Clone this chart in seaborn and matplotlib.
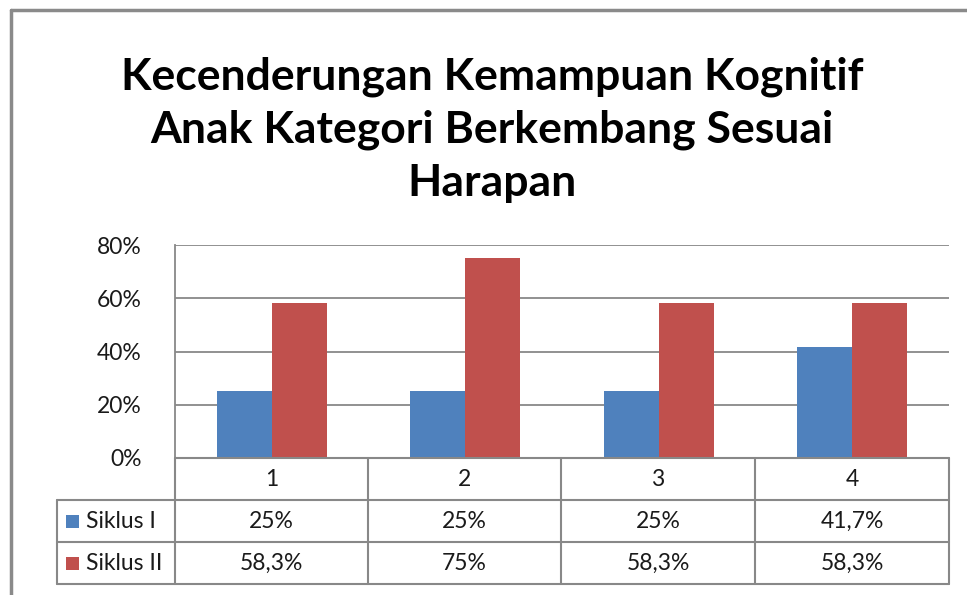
import matplotlib
matplotlib.use("Agg")
import matplotlib.pyplot as plt
import seaborn as sns
import pandas as pd
from matplotlib.lines import Line2D
from matplotlib.patches import Rectangle

categories = ["1", "2", "3", "4"]
series_names = ["Siklus I", "Siklus II"]
siklus1 = [25, 25, 25, 41.7]
siklus2 = [58.3, 75, 58.3, 58.3]
yticks = [0, 20, 40, 60, 80]
title = "Kecenderungan Kemampuan Kognitif\nAnak Kategori Berkembang Sesuai\nHarapan"
colors = ["#4F81BD", "#C0504D"]

sns.set_theme(style="white")
plt.rcParams["font.family"] = ["Lato", "DejaVu Sans"]

W, H = 967, 595
fig = plt.figure(figsize=(W / 100, H / 100), dpi=100)

def fx(px):
    return px / W

def fy(py):
    return 1 - py / H

ax_left, ax_right, ax_top, ax_bottom = 175, 949, 245, 458
ax = fig.add_axes([fx(ax_left), fy(ax_bottom), fx(ax_right - ax_left), fy(ax_top) - fy(ax_bottom)])

df = pd.DataFrame({
    "cat": categories * 2,
    "val": siklus1 + siklus2,
    "series": [series_names[0]] * 4 + [series_names[1]] * 4,
})
sns.barplot(data=df, x="cat", y="val", hue="series", palette=colors, width=0.57,
            gap=0, ax=ax, legend=False, saturation=1, linewidth=0)

FS = 16.5
grid_c = "#888888"
ax.set_ylim(0, 80)
ax.set_xlim(-0.5, 3.5)
ax.set_yticks(yticks)
ax.set_yticklabels([f"{t}%" for t in yticks], fontsize=FS, color="#1a1a1a")
ax.set_xticks([])
ax.set_xlabel("")
ax.set_ylabel("")
for t in yticks[1:]:
    ax.axhline(t, color=grid_c, lw=1.3, zorder=0)
for s in ["top", "right", "bottom"]:
    ax.spines[s].set_visible(False)
ax.spines["left"].set_color(grid_c)
ax.spines["left"].set_linewidth(1.3)
ax.tick_params(axis="y", length=0, pad=24)

# title
fig.text(fx(492), fy(130), title, ha="center", va="center", fontsize=32,
         fontweight="bold", color="#000000", linespacing=1.38)

# table
def hline(y, x0, x1):
    fig.add_artist(Line2D([fx(x0), fx(x1)], [fy(y), fy(y)], color=grid_c, lw=1.5))

def vline(x, y0, y1):
    fig.add_artist(Line2D([fx(x), fx(x)], [fy(y0), fy(y1)], color=grid_c, lw=1.5))

rows = [458, 500, 542, 584]
cols = [175, 368, 561, 755, 949]
leg_left = 57
hline(rows[0], cols[0], cols[-1])
for y in rows[1:]:
    hline(y, leg_left, cols[-1])
vline(leg_left, rows[1], rows[-1])
for x in cols:
    vline(x, rows[0], rows[-1])

txt_c = "#1a1a1a"
for i, c in enumerate(categories):
    cx = (cols[i] + cols[i + 1]) / 2
    fig.text(fx(cx), fy((rows[0] + rows[1]) / 2), c, ha="center", va="center",
             fontsize=FS, color=txt_c)

def fmt(v):
    s = f"{v:g}".replace(".", ",")
    return s + "%"

for r, (name, vals, col) in enumerate(zip(series_names, [siklus1, siklus2], colors)):
    cy = (rows[r + 1] + rows[r + 2]) / 2
    fig.add_artist(Rectangle((fx(66), fy(cy + 6.5)), fx(13), fy(cy - 6.5) - fy(cy + 6.5),
                             color=col, lw=0))
    fig.text(fx(86), fy(cy), name, ha="left", va="center", fontsize=FS, color=txt_c)
    for i, v in enumerate(vals):
        cx = (cols[i] + cols[i + 1]) / 2
        fig.text(fx(cx), fy(cy), fmt(v), ha="center", va="center", fontsize=FS,
                 color=txt_c)

# outer chart border
border_c = "#8a8a8a"
fig.add_artist(Line2D([fx(11), fx(11)], [fy(10), fy(H + 5)], color=border_c, lw=2.5))
fig.add_artist(Line2D([fx(11), fx(W + 5)], [fy(10), fy(10)], color=border_c, lw=2.5))

fig.savefig("out.png", dpi=100)
